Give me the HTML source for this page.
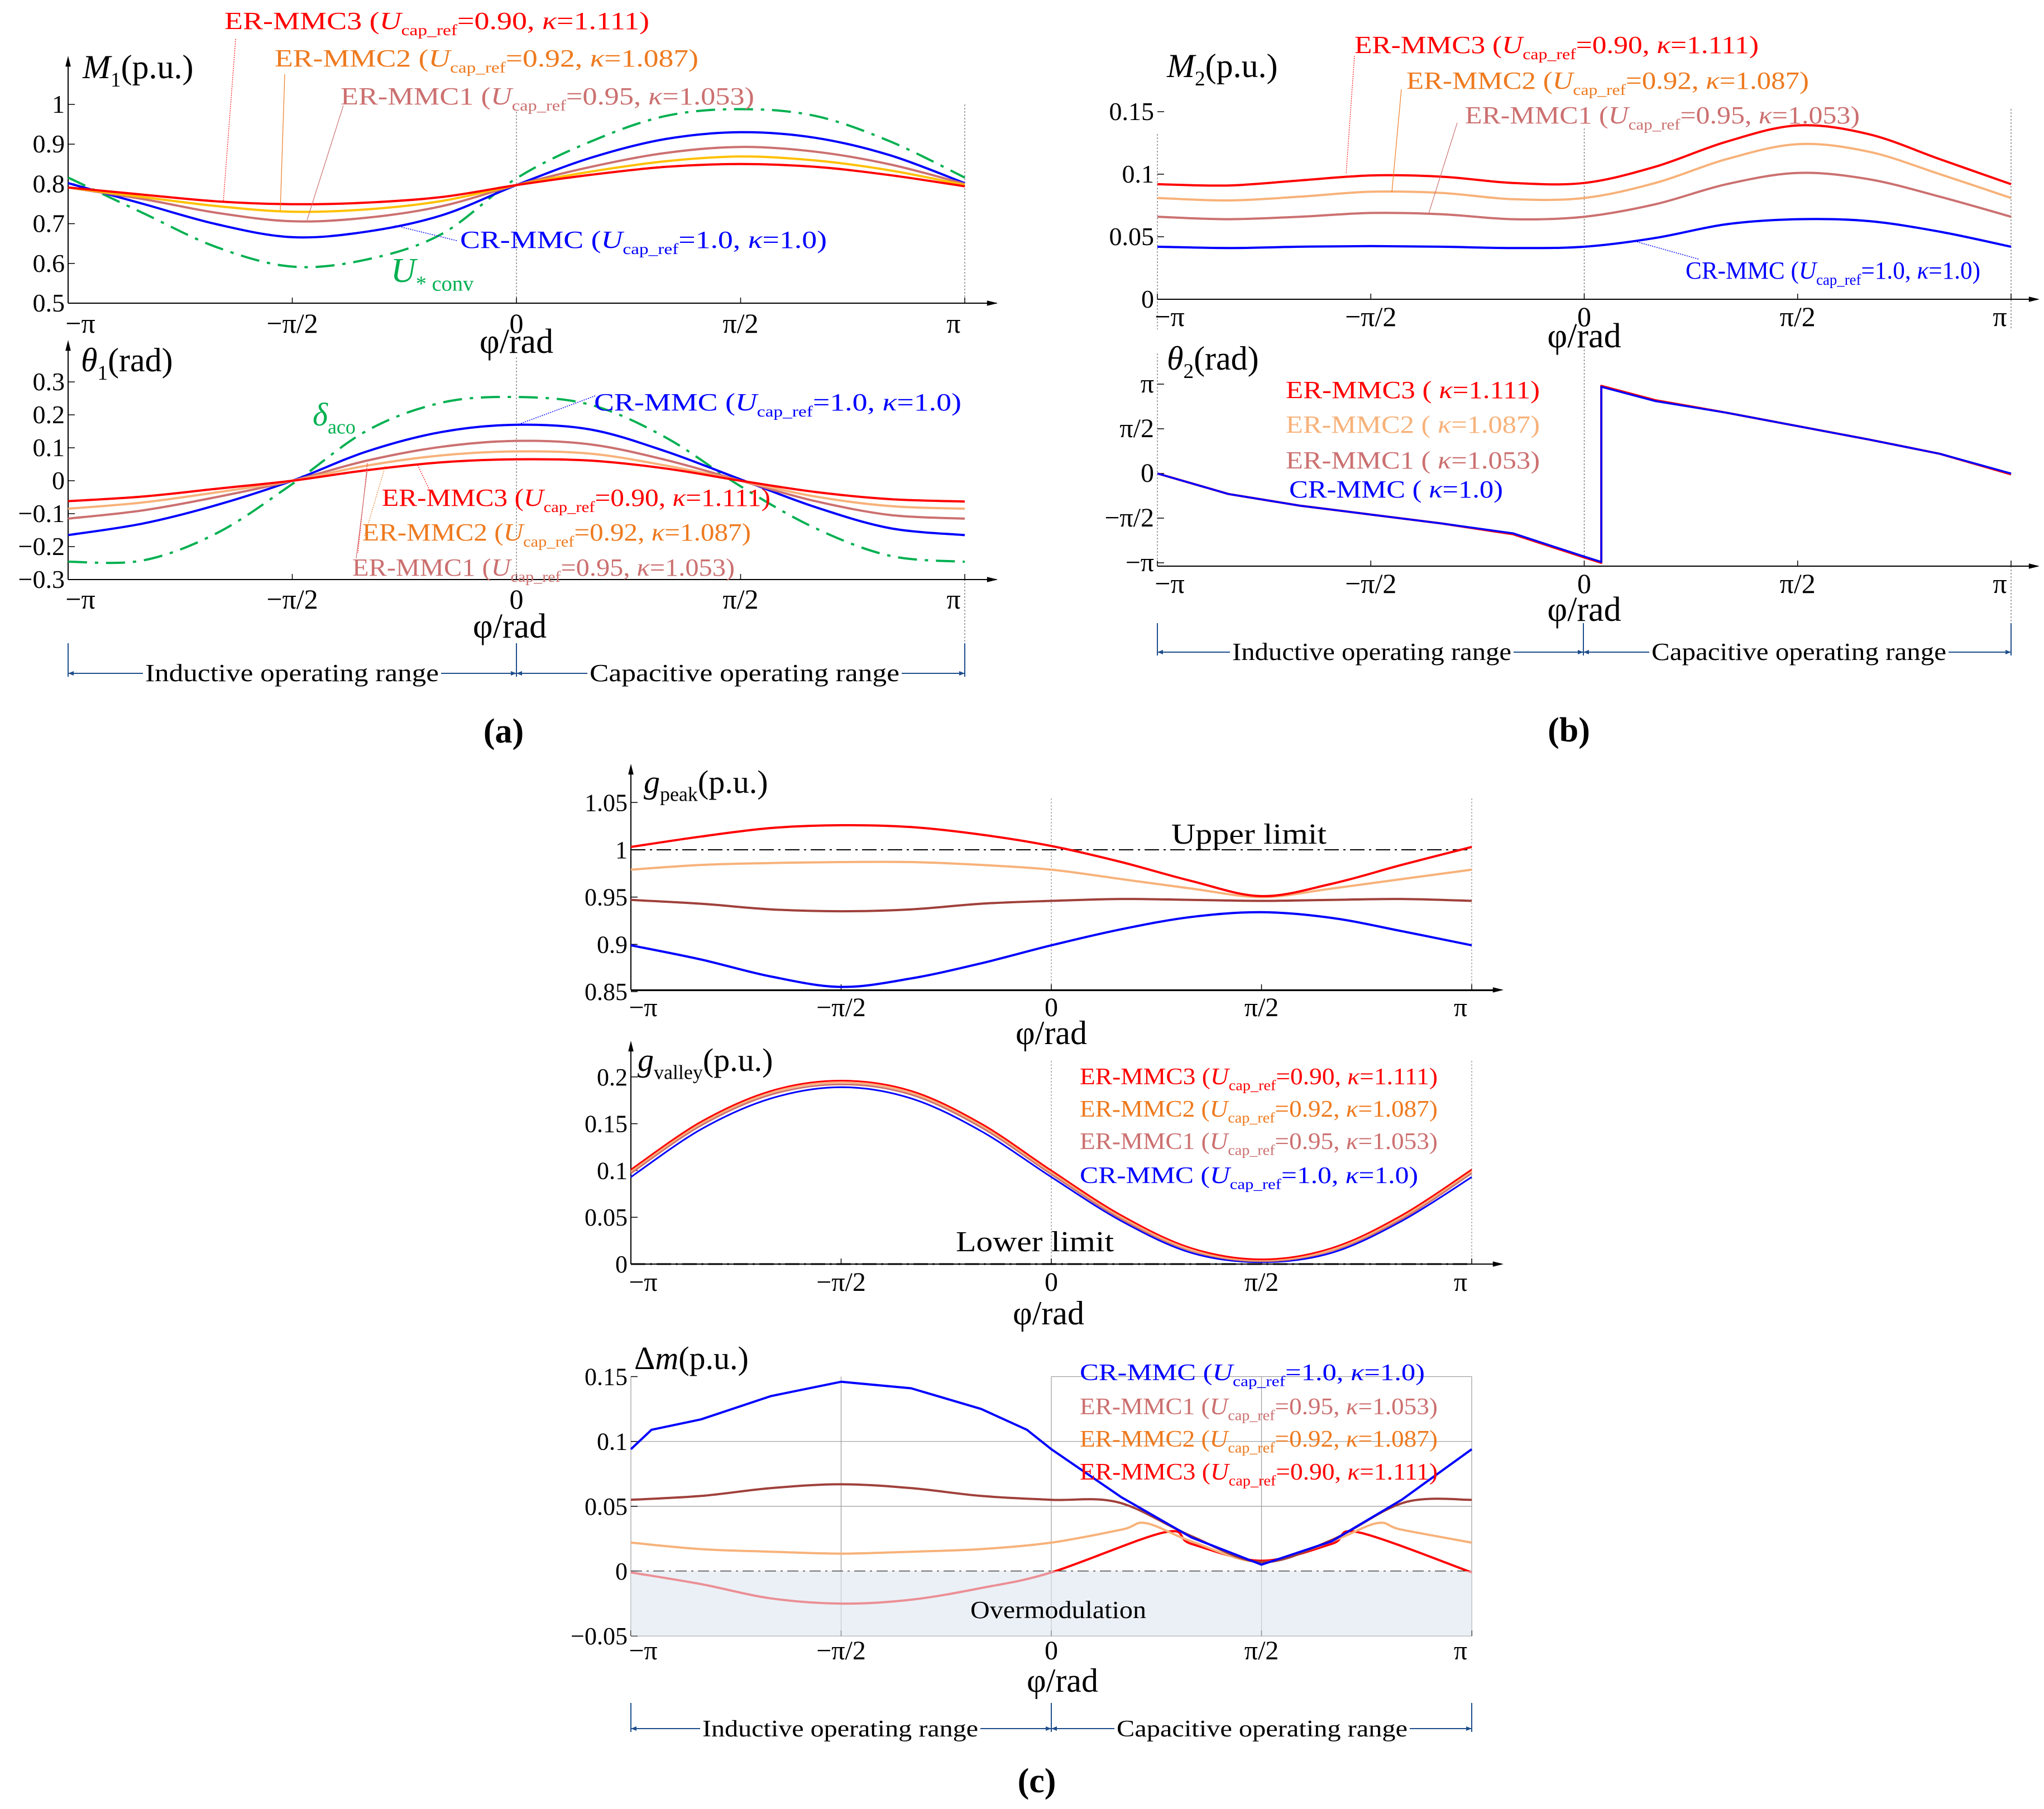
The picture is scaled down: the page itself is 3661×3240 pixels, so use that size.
<!DOCTYPE html>
<html><head><meta charset="utf-8"><style>
html,body{margin:0;padding:0;background:#fff;}
svg{display:block;font-family:"Liberation Serif",serif;}
</style></head><body>
<svg id="fig" xmlns="http://www.w3.org/2000/svg" width="3661" height="3240" viewBox="0 0 3661 3240">
<rect width="3661" height="3240" fill="#fff"/>
</svg>
<script>
// ---- data (phi in units of pi) ----
const phi13 = [-1,-5/6,-2/3,-1/2,-1/3,-1/6,0,1/6,1/3,1/2,2/3,5/6,1];
// Panel a top: M1
const m1Er3 = [0.791,0.773,0.756,0.749,0.753,0.767,0.797,0.823,0.843,0.850,0.843,0.822,0.794];
const m1Er2 = [0.791,0.767,0.744,0.730,0.736,0.757,0.797,0.831,0.857,0.869,0.859,0.834,0.797];
const m1Er1 = [0.791,0.762,0.727,0.706,0.715,0.744,0.797,0.843,0.878,0.893,0.881,0.849,0.800];
const m1Cr  = [0.802,0.750,0.698,0.666,0.680,0.721,0.797,0.866,0.913,0.930,0.916,0.872,0.802];
const m1Uconv=[0.816,0.727,0.640,0.592,0.610,0.674,0.814,0.907,0.971,0.988,0.971,0.907,0.816];
// Panel a bottom: theta1
const t1Er3 = [-0.062,-0.048,-0.024,0,0.032,0.056,0.065,0.061,0.037,0,-0.034,-0.056,-0.063];
const t1Er2 = [-0.085,-0.066,-0.035,0,0.046,0.077,0.089,0.082,0.046,0,-0.048,-0.077,-0.085];
const t1Er1 = [-0.115,-0.090,-0.049,0,0.061,0.103,0.121,0.110,0.063,0,-0.062,-0.104,-0.115];
const t1Cr  = [-0.165,-0.130,-0.073,0,0.089,0.148,0.170,0.155,0.089,0.004,-0.080,-0.144,-0.165];
const t1Delta=[-0.246,-0.242,-0.158,-0.010,0.152,0.237,0.254,0.230,0.131,-0.017,-0.144,-0.228,-0.246];
// Panel b top: M2
const m2Er3 = [0.092,0.091,0.095,0.099,0.098,0.093,0.093,0.106,0.126,0.139,0.132,0.112,0.092];
const m2Er2 = [0.081,0.079,0.082,0.086,0.085,0.080,0.081,0.093,0.112,0.124,0.118,0.100,0.081];
const m2Er1 = [0.066,0.064,0.066,0.069,0.068,0.064,0.066,0.076,0.092,0.101,0.096,0.082,0.066];
const m2Cr  = [0.042,0.041,0.042,0.0425,0.042,0.041,0.042,0.049,0.060,0.064,0.0625,0.054,0.042];
// Panel b bottom: theta2 (units of pi)
const phiT2 = [-1,-5/6,-2/3,-1/2,-1/3,-1/6,0,0.04,0.04,1/6,1/3,1/2,2/3,5/6,1];
const t2Er3 = [0,-0.23,-0.36,-0.46,-0.56,-0.68,-0.94,-1.0,0.98,0.82,0.68,0.53,0.38,0.22,-0.01];
const t2Cr  = [0,-0.23,-0.36,-0.46,-0.56,-0.67,-0.93,-0.99,0.97,0.81,0.68,0.53,0.38,0.22,0.0];
// Panel c: g_peak
const gpEr3 = [1.003,1.014,1.023,1.026,1.024,1.016,1.004,0.987,0.967,0.951,0.964,0.984,1.003];
const gpEr2 = [0.979,0.984,0.986,0.987,0.987,0.984,0.979,0.969,0.959,0.950,0.959,0.969,0.979];
const gpEr1 = [0.947,0.943,0.937,0.935,0.937,0.943,0.946,0.948,0.947,0.946,0.947,0.948,0.946];
const gpCr  = [0.899,0.884,0.866,0.855,0.864,0.880,0.899,0.916,0.929,0.934,0.928,0.914,0.899];
// g_valley
const gvEr3 = [0.101,0.152,0.185,0.196,0.185,0.150,0.100,0.052,0.017,0.005,0.017,0.052,0.101];
const gvEr2 = [0.099,0.150,0.183,0.194,0.183,0.148,0.098,0.050,0.015,0.004,0.015,0.050,0.099];
const gvEr1 = [0.097,0.148,0.181,0.192,0.181,0.146,0.096,0.048,0.014,0.003,0.014,0.048,0.097];
const gvCr  = [0.093,0.144,0.177,0.189,0.177,0.142,0.093,0.046,0.012,0.002,0.012,0.046,0.093];
// delta m
const phiDmCr = [-1,-0.951,-5/6,-2/3,-1/2,-1/3,-1/6,-0.058,0,1/6,1/3,1/2,2/3,5/6,1];
const dmCr  = [0.094,0.109,0.117,0.135,0.146,0.141,0.125,0.109,0.094,0.057,0.026,0.005,0.023,0.055,0.094];
const phiDm = [-1,-5/6,-2/3,-1/2,-1/3,-1/6,0,0.16,1/3,1/2,2/3,0.84,1];
const dmEr1 = [0.055,0.058,0.064,0.067,0.064,0.058,0.055,0.053,0.027,0.007,0.024,0.053,0.055];
const phiDm2 = [-1,-5/6,-2/3,-1/2,-1/3,-1/6,0,1/6,0.225,1/3,1/2,2/3,0.775,5/6,1];
const dmEr2 = [0.022,0.017,0.015,0.0135,0.015,0.017,0.022,0.032,0.037,0.023,0.007,0.023,0.037,0.032,0.022];
const phiDm3 = [-1,-5/6,-2/3,-1/2,-1/3,-1/6,0,0.27,1/3,1/2,2/3,0.73,1];
const dmEr3 = [-0.001,-0.010,-0.021,-0.025,-0.022,-0.013,-0.001,0.030,0.021,0.008,0.021,0.030,-0.001];
const xTicks = ['−π','−π/2','0','π/2','π'];

const NS='http://www.w3.org/2000/svg';
const svg=document.getElementById('fig');
function mk(tag,attrs,parent){const e=document.createElementNS(NS,tag);for(const k in attrs)e.setAttribute(k,attrs[k]);(parent||svg).appendChild(e);return e;}
function smooth(pts){let d='M'+pts[0][0].toFixed(1)+','+pts[0][1].toFixed(1);
 for(let i=0;i<pts.length-1;i++){const p0=pts[i-1]||pts[i],p1=pts[i],p2=pts[i+1],p3=pts[i+2]||p2;
  const c1=[p1[0]+(p2[0]-p0[0])/6,p1[1]+(p2[1]-p0[1])/6],c2=[p2[0]-(p3[0]-p1[0])/6,p2[1]-(p3[1]-p1[1])/6];
  d+=' C'+c1[0].toFixed(1)+','+c1[1].toFixed(1)+' '+c2[0].toFixed(1)+','+c2[1].toFixed(1)+' '+p2[0].toFixed(1)+','+p2[1].toFixed(1);}
 return d;}
function poly(pts){return 'M'+pts.map(p=>p[0].toFixed(1)+','+p[1].toFixed(1)).join(' L');}
function series(name,xs,vs,xf,yf,color,w,opt){opt=opt||{};
 const pts=xs.map((p,i)=>[xf(p),yf(vs[i])]);
 const e=mk('path',{d:opt.straight?poly(pts):smooth(pts),fill:'none',stroke:color,'stroke-width':w,'stroke-linejoin':'round'});
 if(opt.dash)e.setAttribute('stroke-dasharray',opt.dash);
 
 
 return e;}
function txt(name,x,y,s,size,opt){opt=opt||{};
 const e=mk('text',{x:x,y:y,'font-size':size,fill:opt.color||'#000','text-anchor':opt.anchor||'start'});
 if(opt.weight)e.setAttribute('font-weight',opt.weight);
 if(opt.italic)e.setAttribute('font-style','italic');
 if(opt.len){e.setAttribute('textLength',opt.len);e.setAttribute('lengthAdjust','spacingAndGlyphs');}
 e.textContent=s;
 
 
 return e;}
function rich(name,x,y,parts,size,color,len){
 const e=mk('text',{x:x,y:y,'font-size':size,fill:color});
 if(len){e.setAttribute('textLength',len);e.setAttribute('lengthAdjust','spacingAndGlyphs');}
 let sub=false;
 parts.forEach(p=>{const t=mk('tspan',{},e);
  if(p.i)t.setAttribute('font-style','italic');
  if(p.s){t.setAttribute('font-size',size*0.62);t.setAttribute('dy',size*0.25);sub=true;}
  else if(sub){t.setAttribute('dy',-size*0.25);sub=false;}
  t.textContent=p.t;});
 
 
 return e;}
function ln(name,x1,y1,x2,y2,color,w,dash){const e=mk('line',{x1:x1,y1:y1,x2:x2,y2:y2,stroke:color,'stroke-width':w});
 if(dash)e.setAttribute('stroke-dasharray',dash);
 
 return e;}
function arrowHead(x,y,dir){const s=12;let pts;
 if(dir==='r')pts=[[x,y],[x-s*1.6,y-s/2.5],[x-s*1.6,y+s/2.5]];
 else if(dir==='l')pts=[[x,y],[x+s*1.6,y-s/2.5],[x+s*1.6,y+s/2.5]];
 else pts=[[x,y],[x-s/2.5,y+s*1.6],[x+s/2.5,y+s*1.6]];
 const e=mk('polygon',{points:pts.map(p=>p.join(',')).join(' '),fill:'#000'});
 
 }
function legend(name,x,y,head,uval,kval,color,len,size){
 return rich(name,x,y,[{t:head+' ('},{t:'U',i:1},{t:'cap_ref',s:1},{t:'='+uval+',  '},{t:'κ',i:1},{t:'='+kval+')'}],size||44,color,len);}
function ticksX(prefix,x0,x1,yAxis,yLab,size){
 xTicks.forEach((t,i)=>{const x=x0+(x1-x0)*i/4;
  ln(prefix+'-xtick',x,yAxis,x,yAxis-10,'#000',1.5);
  txt(prefix+'-xtick-label',x+(i===0?22:i===4?-20:0),yLab,t,size||50,{anchor:'middle'});});}
function ticksY(prefix,x0,vals,labels,yf,size){
 vals.forEach((v,i)=>{const y=yf(v);ln(prefix+'-ytick',x0,y,x0+12,y,'#000',1.5);
  txt(prefix+'-ytick-label',x0-6,y+15,labels[i],size||46,{anchor:'end'});});}
function bracket(prefix,x0,xm,x1,yTop,y,t1,t1x,t1l,t2,t2x,t2l,size){
 const c='#1f4e8c';
 [x0,xm,x1].forEach(x=>ln(prefix+'-bracket-tick',x,yTop,x,y+6,c,2));
 ln(prefix+'-bracket-line',x0,y,x1,y,c,2);
 const mkA=(x,dir)=>{const s=10;const e=mk('polygon',{points:dir==='r'?`${x},${y} ${x-s},${y-4} ${x-s},${y+4}`:`${x},${y} ${x+s},${y-4} ${x+s},${y+4}`,fill:c});
  
  };
 mkA(x0,'l');mkA(xm,'r');mkA(xm,'l');mkA(x1,'r');
 const r1=mk('rect',{x:t1x-4,y:y-30,width:t1l+8,height:50,fill:'#fff'});
 const r2=mk('rect',{x:t2x-4,y:y-30,width:t2l+8,height:50,fill:'#fff'});
 txt(prefix+'-inductive-label',t1x,y+14,t1,size,{len:t1l});
 txt(prefix+'-capacitive-label',t2x,y+14,t2,size,{len:t2l});}

const RED='#ff0000',BLUE='#0000ff',GREEN='#00b050',ROSY='#cc7070',LORANGE='#f7b27a',YEL='#ffc000',ORTXT='#ee7a1f',DRED='#a0403a';

// ===== Panel (a) top: M1 =====
const ax0=122,ax1=1728;
(function(){const x0=ax0,x1=ax1;const xf=p=>x0+(p+1)/2*(x1-x0);const yf=v=>543-(v-0.5)*712;
 ln('a1-zero-guide',xf(0),200,xf(0),543,'#666',1.2,'3 3');ln('a1-pi-guide',x1,187,x1,543,'#666',1.2,'3 3');
 ln('a1-x-axis',x0,543,1785,543,'#000',2);arrowHead(1787,543,'r');
 ln('a1-y-axis',x0,543,x0,104,'#000',2);arrowHead(x0,100,'u');
 ticksY('a1',x0,[0.5,0.6,0.7,0.8,0.9,1],['0.5','0.6','0.7','0.8','0.9','1'],yf);
 ticksX('a1',x0,x1,543,596);
 txt('a1-x-title',xf(0),632,'φ/rad',62,{anchor:'middle',italic:0});
 rich('a1-y-title',148,140,[{t:'M',i:1},{t:'1',s:1},{t:'(p.u.)'}],60,'#000');
 series('a1-uconv',phi13,m1Uconv,xf,yf,GREEN,4,{dash:'34 14 6 14'});
 series('a1-cr-mmc',phi13,m1Cr,xf,yf,BLUE,4);
 series('a1-er-mmc1',phi13,m1Er1,xf,yf,ROSY,4);
 series('a1-er-mmc2',phi13,m1Er2,xf,yf,YEL,4);
 series('a1-er-mmc3',phi13,m1Er3,xf,yf,RED,4);
 ln('a1-leader',422,70,400,361,RED,1.2,'2 2');ln('a1-leader',510,133,502,377,ORTXT,1.2);ln('a1-leader',615,189,550,394,ROSY,1.2);ln('a1-leader',818,431,708,404,BLUE,1.5,'2 2');
 legend('a1-legend-er-mmc3',402,52,'ER-MMC3','0.90','1.111',RED,761);
 legend('a1-legend-er-mmc2',492,119,'ER-MMC2','0.92','1.087',ORTXT,759);
 legend('a1-legend-er-mmc1',610,187,'ER-MMC1','0.95','1.053',ROSY,741);
 legend('a1-legend-cr-mmc',824,444,'CR-MMC','1.0','1.0',BLUE,657);
 rich('a1-uconv-label',700,505,[{t:'U',i:1},{t:'*  conv',s:1}],62,GREEN);
})();
// ===== Panel (a) bottom: theta1 =====
(function(){const x0=ax0,x1=ax1;const xf=p=>x0+(p+1)/2*(x1-x0);const yf=v=>861-v*590;
 ln('a2-zero-guide',xf(0),640,xf(0),1038,'#666',1.2,'3 3');ln('a2-pi-guide',x1,1038,x1,1206,'#666',1.2,'3 3');
 ln('a2-x-axis',x0,1038,1785,1038,'#000',2);arrowHead(1787,1038,'r');
 ln('a2-y-axis',x0,1038,x0,613,'#000',2);arrowHead(x0,609,'u');
 ticksY('a2',x0,[-0.3,-0.2,-0.1,0,0.1,0.2,0.3],['−0.3','−0.2','−0.1','0','0.1','0.2','0.3'],yf);
 ticksX('a2',x0,x1,1038,1090);
 txt('a2-x-title',xf(0)-12,1142,'φ/rad',62,{anchor:'middle'});
 rich('a2-y-title',145,665,[{t:'θ',i:1},{t:'1',s:1},{t:'(rad)'}],60,'#000');
 series('a2-delta-aco',phi13,t1Delta,xf,yf,GREEN,4,{dash:'34 14 6 14'});
 series('a2-cr-mmc',phi13,t1Cr,xf,yf,BLUE,4);
 series('a2-er-mmc1',phi13,t1Er1,xf,yf,ROSY,4);
 series('a2-er-mmc2',phi13,t1Er2,xf,yf,LORANGE,4);
 series('a2-er-mmc3',phi13,t1Er3,xf,yf,RED,4);
 ln('a2-leader',1066,709,926,761,BLUE,1.5,'2 2');ln('a2-leader',748,833,772,883,RED,1.2,'2 2');
 ln('a2-leader',658,830,641,990,RED,1.2,'2 2');ln('a2-leader',690,835,653,960,ORTXT,1.2,'2 2');ln('a2-leader',658,840,638,1000,ROSY,1.2);
 legend('a2-legend-cr-mmc',1064,735,'CR-MMC','1.0','1.0',BLUE,658);
 legend('a2-legend-er-mmc3',684,906,'ER-MMC3','0.90','1.111',RED,696);
 legend('a2-legend-er-mmc2',649,968,'ER-MMC2','0.92','1.087',ORTXT,696);
 legend('a2-legend-er-mmc1',631,1031,'ER-MMC1','0.95','1.053',ROSY,685);
 rich('a2-delta-label',560,762,[{t:'δ',i:1},{t:'aco',s:1}],58,GREEN);
 bracket('a',ax0,925,ax1,1152,1206,'Inductive operating range',260,526,'Capacitive operating range',1056,555,44);
 txt('panel-a-label',902,1330,'(a)',62,{anchor:'middle',weight:'bold'});
})();
// ===== Panel (b) top: M2 =====
const bx0=2073,bx1=3602;
(function(){const x0=bx0,x1=bx1;const xf=p=>x0+(p+1)/2*(x1-x0);const yf=v=>536-v*2240;
 ln('b1-zero-guide',xf(0),230,xf(0),536,'#666',1.2,'3 3');ln('b1-pi-guide',x1,195,x1,590,'#666',1.2,'3 3');
 ln('b1-left-guide',x0,240,x0,590,'#666',1.2,'3 3');
 ln('b1-x-axis',x0,536,3650,536,'#000',2);arrowHead(3653,536,'r');
 ticksY('b1',x0,[0,0.05,0.1,0.15],['0','0.05','0.1','0.15'],yf);
 ticksX('b1',x0,x1,536,584);
 txt('b1-x-title',xf(0),622,'φ/rad',62,{anchor:'middle'});
 rich('b1-y-title',2090,138,[{t:'M',i:1},{t:'2',s:1},{t:'(p.u.)'}],60,'#000');
 series('b1-cr-mmc',phi13,m2Cr,xf,yf,BLUE,4);
 series('b1-er-mmc1',phi13,m2Er1,xf,yf,ROSY,4);
 series('b1-er-mmc2',phi13,m2Er2,xf,yf,LORANGE,4);
 series('b1-er-mmc3',phi13,m2Er3,xf,yf,RED,4);
 ln('b1-leader',2426,100,2411,312,RED,1.2,'2 2');ln('b1-leader',2510,160,2493,344,ORTXT,1.2);ln('b1-leader',2610,220,2559,382,ROSY,1.2);ln('b1-leader',3042,464,2928,432,BLUE,1.5,'2 2');
 legend('b1-legend-er-mmc3',2426,95,'ER-MMC3','0.90','1.111',RED,724);
 legend('b1-legend-er-mmc2',2519,159,'ER-MMC2','0.92','1.087',ORTXT,721);
 legend('b1-legend-er-mmc1',2624,221,'ER-MMC1','0.95','1.053',ROSY,707);
 legend('b1-legend-cr-mmc',3019,499,'CR-MMC','1.0','1.0',BLUE,528);
})();
// ===== Panel (b) bottom: theta2 =====
(function(){const x0=bx0,x1=bx1;const xf=p=>x0+(p+1)/2*(x1-x0);const yf=v=>848-v*160;
 ln('b2-zero-guide',xf(0),620,xf(0),1014,'#666',1.2,'3 3');ln('b2-pi-guide',x1,1014,x1,1118,'#666',1.2,'3 3');
 ln('b2-y-axis',x0,1014,x0,630,'#666',1.2,'3 3');
 ln('b2-x-axis',x0,1014,3650,1014,'#000',2);arrowHead(3653,1014,'r');
 ticksY('b2',x0,[-1,-0.5,0,0.5,1],['−π','−π/2','0','π/2','π'],yf,48);
 ticksX('b2',x0,x1,1014,1062);
 txt('b2-x-title',xf(0),1112,'φ/rad',62,{anchor:'middle'});
 rich('b2-y-title',2090,662,[{t:'θ',i:1},{t:'2',s:1},{t:'(rad)'}],60,'#000');
 series('b2-er-mmc3',phiT2,t2Er3,xf,yf,RED,4,{straight:1});
 series('b2-cr-mmc',phiT2,t2Cr,xf,yf,BLUE,3.5,{straight:1});
 rich('b2-legend-er-mmc3',2303,713,[{t:'ER-MMC3 ( '},{t:'κ',i:1},{t:'=1.111)'}],44,RED,455);
 rich('b2-legend-er-mmc2',2303,775,[{t:'ER-MMC2 ( '},{t:'κ',i:1},{t:'=1.087)'}],44,LORANGE,455);
 rich('b2-legend-er-mmc1',2303,839,[{t:'ER-MMC1 ( '},{t:'κ',i:1},{t:'=1.053)'}],44,ROSY,455);
 rich('b2-legend-cr-mmc',2309,891,[{t:'CR-MMC ( '},{t:'κ',i:1},{t:'=1.0)'}],44,BLUE,383);
 bracket('b',bx0,2836,bx1,1116,1168,'Inductive operating range',2207,500,'Capacitive operating range',2958,528,44);
 txt('panel-b-label',2810,1328,'(b)',62,{anchor:'middle',weight:'bold'});
})();
// ===== Panel (c) g_peak =====
const cx0=1130,cx1=2636;const cxf=p=>cx0+(p+1)/2*(cx1-cx0);
(function(){const yf=v=>1522+(1-v)*1694;
 ln('c1-zero-guide',cxf(0),1430,cxf(0),1773,'#888',1.2,'3 3');ln('c1-pi-guide',cx1,1430,cx1,1773,'#888',1.2,'3 3');
 ln('c1-base-line',cx0,yf(0.85)-2,2680,yf(0.85)-2,'#000',2);
 ln('c1-x-axis',cx0,1773,2690,1773,'#000',2);arrowHead(2693,1773,'r');
 ln('c1-y-axis',cx0,1773,cx0,1372,'#000',2);arrowHead(cx0,1368,'u');
 ticksY('c1',cx0,[0.85,0.9,0.95,1,1.05],['0.85','0.9','0.95','1','1.05'],yf,44);
 ticksX('c1',cx0,cx1,1773,1820,48);
 txt('c1-x-title',cxf(0),1870,'φ/rad',60,{anchor:'middle'});
 rich('c1-y-title',1153,1420,[{t:'g',i:1},{t:'peak',s:1},{t:'(p.u.)'}],58,'#000');
 ln('c1-upper-limit',cx0,yf(1),cx1,yf(1),'#000',2,'26 8 4 8');
 txt('c1-upper-limit-label',2098,1511,'Upper limit',52,{len:278});
 series('c1-cr-mmc',phi13,gpCr,cxf,yf,BLUE,4);
 series('c1-er-mmc1',phi13,gpEr1,cxf,yf,DRED,4);
 series('c1-er-mmc2',phi13,gpEr2,cxf,yf,LORANGE,4);
 series('c1-er-mmc3',phi13,gpEr3,cxf,yf,RED,4);
})();
// ===== Panel (c) g_valley =====
(function(){const yf=v=>2264-v*1676;
 ln('c2-zero-guide',cxf(0),1900,cxf(0),2264,'#888',1.2,'3 3');ln('c2-pi-guide',cx1,1900,cx1,2264,'#888',1.2,'3 3');
 ln('c2-x-axis',cx0,2264,2690,2264,'#000',2);arrowHead(2693,2264,'r');
 ln('c2-y-axis',cx0,2264,cx0,1868,'#000',2);arrowHead(cx0,1864,'u');
 ticksY('c2',cx0,[0,0.05,0.1,0.15,0.2],['0','0.05','0.1','0.15','0.2'],yf,44);
 ticksX('c2',cx0,cx1,2264,2312,48);
 txt('c2-x-title',cxf(0)-5,2372,'φ/rad',60,{anchor:'middle'});
 rich('c2-y-title',1142,1918,[{t:'g',i:1},{t:'valley',s:1},{t:'(p.u.)'}],58,'#000');
 ln('c2-lower-limit',cx0,yf(0),cx1,yf(0),'#000',3,'26 8 4 8');
 txt('c2-lower-limit-label',1712,2241,'Lower limit',52,{len:283});
 series('c2-cr-mmc',phi13,gvCr,cxf,yf,BLUE,3);
 series('c2-er-mmc1',phi13,gvEr1,cxf,yf,ROSY,3);
 series('c2-er-mmc2',phi13,gvEr2,cxf,yf,LORANGE,3);
 series('c2-er-mmc3',phi13,gvEr3,cxf,yf,RED,3);
 legend('c2-legend-er-mmc3',1934,1942,'ER-MMC3','0.90','1.111',RED,641,42);
 legend('c2-legend-er-mmc2',1934,2000,'ER-MMC2','0.92','1.087',ORTXT,641,42);
 legend('c2-legend-er-mmc1',1934,2058,'ER-MMC1','0.95','1.053',ROSY,641,42);
 legend('c2-legend-cr-mmc',1934,2119,'CR-MMC','1.0','1.0',BLUE,606,42);
})();
// ===== Panel (c) delta m =====
(function(){const yf=v=>2814-v*2323;
 [0.05,0.1].forEach(v=>ln('c3-h-grid',cx0,yf(v),cx1,yf(v),'#999',1.2));
 ln('c3-top-frame',cxf(0),yf(0.15),cx1,yf(0.15),'#999',1.2);
 [-0.5,0,0.5].forEach(p=>ln('c3-v-grid',cxf(p),yf(0.15),cxf(p),yf(-0.05),'#999',1.2));
 ln('c3-right-frame',cx1,yf(0.15),cx1,yf(-0.05),'#999',1.2);
 ln('c3-left-frame',cx0,yf(0.15),cx0,yf(-0.05),'#999',1.2);
 ln('c3-bottom-frame',cx0,yf(-0.05),cx1,yf(-0.05),'#999',1.2);
 ln('c3-zero-line',cx0,yf(0),cx1,yf(0),'#000',1.5,'20 8 4 8');
 ticksY('c3',cx0,[-0.05,0,0.05,0.1,0.15],['−0.05','0','0.05','0.1','0.15'],yf,44);
 ticksX('c3',cx0,cx1,yf(-0.05),2972,48);
 txt('c3-x-title',cxf(0)+20,3030,'φ/rad',60,{anchor:'middle'});
 rich('c3-y-title',1136,2452,[{t:'Δ'},{t:'m',i:1},{t:'(p.u.)'}],58,'#000');
 series('c3-er-mmc3',phiDm3,dmEr3,cxf,yf,RED,4,{straight:0});
 const r=mk('rect',{x:cx0,y:yf(0),width:cx1-cx0,height:yf(-0.05)-yf(0),fill:'#dfe6f0','fill-opacity':0.62});
 
 
 txt('c3-overmodulation-label',1738,2898,'Overmodulation',44,{len:315});
 series('c3-er-mmc2',phiDm2,dmEr2,cxf,yf,LORANGE,4);
 series('c3-er-mmc1',phiDm,dmEr1,cxf,yf,DRED,4);
 series('c3-cr-mmc',phiDmCr,dmCr,cxf,yf,BLUE,4,{straight:1});
 legend('c3-legend-cr-mmc',1934,2472,'CR-MMC','1.0','1.0',BLUE,618,42);
 legend('c3-legend-er-mmc1',1934,2533,'ER-MMC1','0.95','1.053',ROSY,641,42);
 legend('c3-legend-er-mmc2',1934,2591,'ER-MMC2','0.92','1.087',ORTXT,641,42);
 legend('c3-legend-er-mmc3',1934,2650,'ER-MMC3','0.90','1.111',RED,641,42);
 bracket('c',cx0,1883,cx1,3050,3096,'Inductive operating range',1258,494,'Capacitive operating range',2000,521,42);
 txt('panel-c-label',1857,3210,'(c)',62,{anchor:'middle',weight:'bold'});
})();
</script>
</body></html>
